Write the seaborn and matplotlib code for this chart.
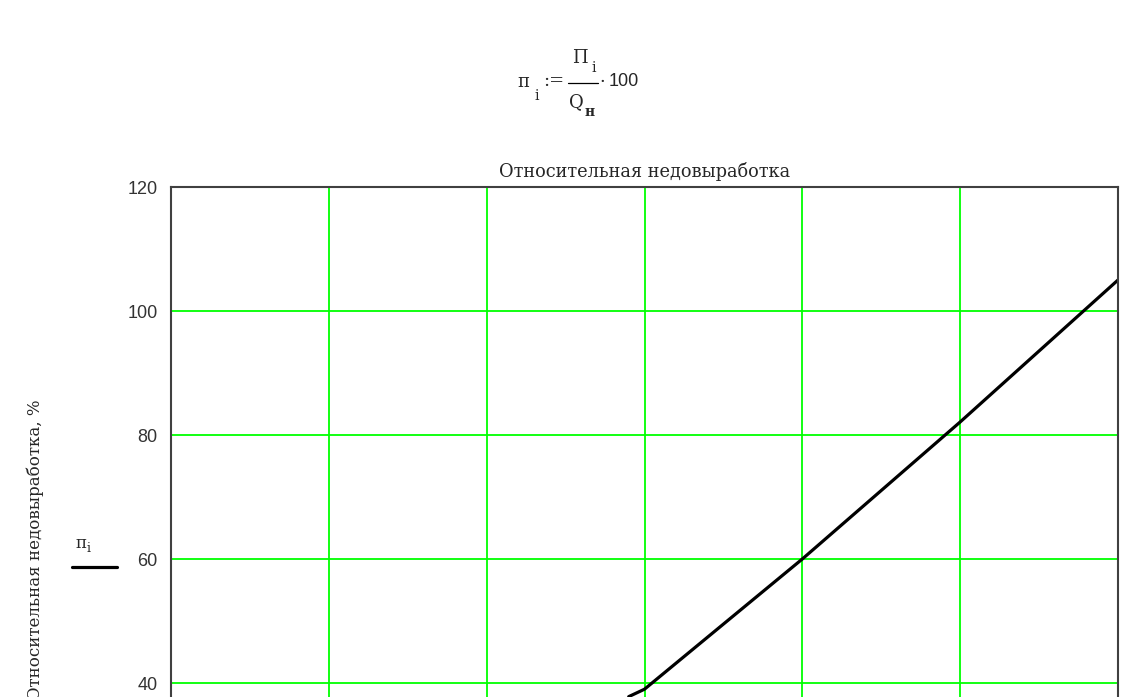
import numpy as np
import pandas as pd
import matplotlib
matplotlib.use("Agg")
import matplotlib.pyplot as plt
import seaborn as sns

# values (x in grid units, y in %)
x_vals = [2.9, 3, 4, 5, 6]
pi_vals = [37.8, 39.0, 60.0, 82.1, 105.0]
y_ticks = [0, 20, 40, 60, 80, 100, 120]
y_ticklabels = ['', '', '40', '60', '80', '100', '120']   # 0 and 20 are below the visible picture
x_ticks = [0, 1, 2, 3, 4, 5, 6]

title = "Относительная недовыработка"
y_label = "Относительная недовыработка, %"

sns.set_style("white")
plt.rcParams['font.family'] = ['DejaVu Serif', 'Liberation Serif']
serif = ['DejaVu Serif']
sans = ['Liberation Sans', 'DejaVu Sans']

W, H = 1146, 697
fig = plt.figure(figsize=(W / 100, H / 100), dpi=100)

# axes extend below the visible picture (the reference is cut off)
left, right, top, bottom = 171, 1118, 187, 931
ax = fig.add_axes([left / W, 1 - bottom / H, (right - left) / W, (bottom - top) / H])

df = pd.DataFrame({'x': x_vals, 'pi': pi_vals})
sns.lineplot(data=df, x='x', y='pi', ax=ax, color='black', linewidth=2.3, legend=False)

ax.set_xlim(0, 6)
ax.set_ylim(0, 120)
ax.set_xticks(x_ticks)
ax.set_xticklabels([])
ax.set_yticks(y_ticks)
ax.set_yticklabels(y_ticklabels, family=sans, fontsize=13, color='#333333')
ax.grid(True, color='#00ff00', linewidth=1.3)
ax.set_axisbelow(True)
ax.tick_params(axis='y', length=0, pad=9.5)
ax.tick_params(axis='x', length=0)
for s in ax.spines.values():
    s.set_color('#404040')
    s.set_linewidth(1.5)
ax.set_xlabel('')
ax.set_ylabel('')
ax.set_title(title, fontsize=12.8, pad=7, family=serif)

# y label (runs off the bottom like in the reference)
fig.text(35 / W, 1 - 400 / H, y_label, rotation=90, ha='center', va='top', fontsize=12, family=serif)

# legend-like marker on the left
fig.text(75 / W, 1 - 543 / H, "п", fontsize=12, ha='left', va='center', family=serif)
fig.text(87 / W, 1 - 549 / H, "i", fontsize=9, ha='left', va='center', family=serif)
fig.add_artist(plt.Line2D([72 / W, 117 / W], [1 - 567 / H, 1 - 567 / H], color='black', linewidth=2.3))

# formula at the top
fs = 13
fig.text(517 / W, 1 - 82 / H, "п", fontsize=fs, ha='left', va='center', family=serif)
fig.text(534 / W, 1 - 96 / H, "i", fontsize=10, ha='left', va='center', family=serif)
fig.text(543 / W, 1 - 81 / H, ":=", fontsize=fs, ha='left', va='center', family=serif)
fig.add_artist(plt.Line2D([568 / W, 598 / W], [1 - 83 / H, 1 - 83 / H], color='black', linewidth=0.9))
fig.text(572 / W, 1 - 58 / H, "П", fontsize=fs, ha='left', va='center', family=serif)
fig.text(591 / W, 1 - 68 / H, "i", fontsize=10, ha='left', va='center', family=serif)
fig.text(569 / W, 1 - 102 / H, "Q", fontsize=fs, ha='left', va='center', family=serif)
fig.text(585 / W, 1 - 112 / H, "н", fontsize=10, ha='left', va='center', family=serif, fontweight='bold')
fig.text(599 / W, 1 - 82 / H, "·", fontsize=fs, ha='left', va='center', family=serif)
fig.text(609 / W, 1 - 82 / H, "100", fontsize=13, ha='left', va='center', family=sans)

fig.savefig("out.png", dpi=100)
